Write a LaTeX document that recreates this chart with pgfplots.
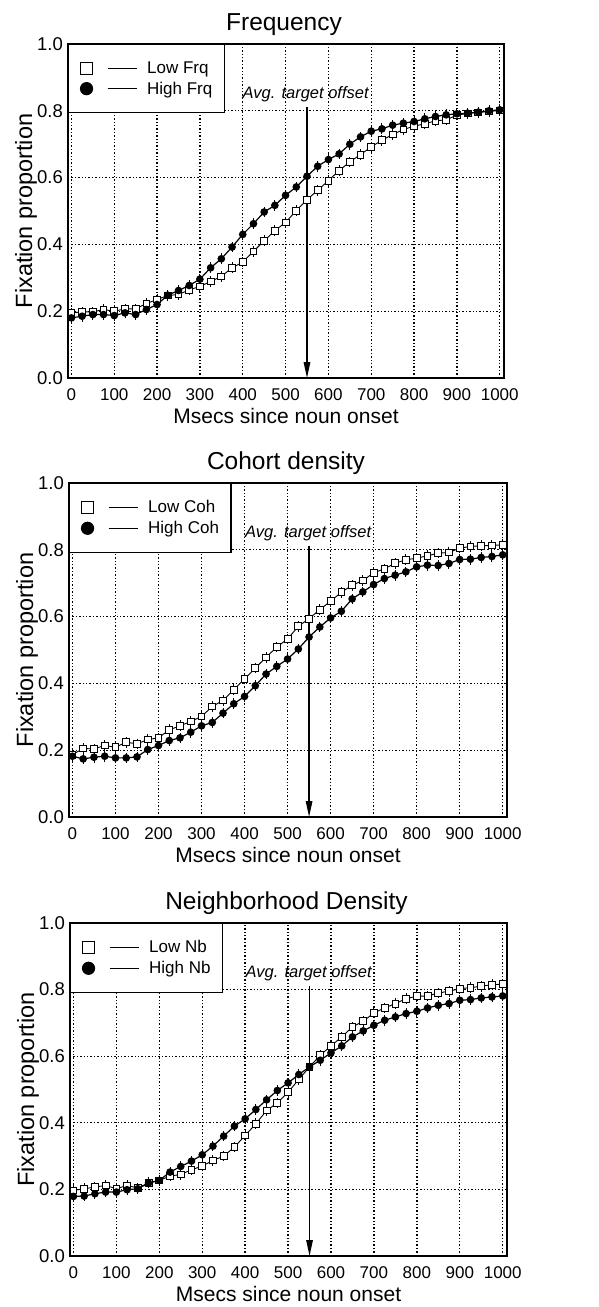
\documentclass[border=0pt]{standalone}
\usepackage{fontspec}
\setmainfont{Liberation Sans}
\usepackage{pgfplots}
\usepackage{pgfplotstable}
\pgfplotsset{compat=1.18}
\usetikzlibrary{arrows.meta}

\pgfplotstableread{
x y
0 0.195
25 0.198
50 0.198
75 0.205
100 0.200
125 0.207
150 0.207
175 0.223
200 0.235
225 0.247
250 0.250
275 0.264
300 0.274
325 0.289
350 0.304
375 0.330
400 0.347
425 0.379
450 0.411
475 0.441
500 0.466
525 0.501
550 0.534
575 0.562
600 0.591
625 0.621
650 0.647
675 0.669
700 0.692
725 0.712
750 0.729
775 0.744
800 0.754
825 0.761
850 0.770
875 0.773
900 0.787
925 0.792
950 0.795
975 0.798
1000 0.801
}\frqlow

\pgfplotstableread{
x y
0 0.180
25 0.185
50 0.190
75 0.190
100 0.187
125 0.195
150 0.190
175 0.205
200 0.220
225 0.248
250 0.262
275 0.277
300 0.296
325 0.330
350 0.357
375 0.392
400 0.430
425 0.462
450 0.497
475 0.517
500 0.547
525 0.572
550 0.604
575 0.634
600 0.654
625 0.671
650 0.700
675 0.722
700 0.739
725 0.746
750 0.757
775 0.763
800 0.768
825 0.776
850 0.783
875 0.788
900 0.791
925 0.793
950 0.796
975 0.800
1000 0.803
}\frqhigh

\pgfplotstableread{
x y
0 0.187
25 0.205
50 0.204
75 0.214
100 0.209
125 0.224
150 0.219
175 0.232
200 0.237
225 0.261
250 0.273
275 0.286
300 0.301
325 0.331
350 0.349
375 0.381
400 0.413
425 0.446
450 0.478
475 0.509
500 0.533
525 0.571
550 0.594
575 0.621
600 0.646
625 0.673
650 0.694
675 0.708
700 0.731
725 0.743
750 0.760
775 0.770
800 0.775
825 0.782
850 0.790
875 0.792
900 0.805
925 0.810
950 0.812
975 0.813
1000 0.815
}\cohlow

\pgfplotstableread{
x y
0 0.182
25 0.174
50 0.179
75 0.182
100 0.177
125 0.177
150 0.180
175 0.202
200 0.214
225 0.229
250 0.237
275 0.254
300 0.273
325 0.283
350 0.311
375 0.339
400 0.361
425 0.393
450 0.428
475 0.451
500 0.473
525 0.503
550 0.539
575 0.569
600 0.596
625 0.616
650 0.653
675 0.674
700 0.696
725 0.714
750 0.724
775 0.734
800 0.749
825 0.754
850 0.753
875 0.759
900 0.771
925 0.772
950 0.777
975 0.780
1000 0.785
}\cohhigh

\pgfplotstableread{
x y
0 0.197
25 0.202
50 0.207
75 0.212
100 0.202
125 0.212
150 0.204
175 0.220
200 0.227
225 0.240
250 0.245
275 0.259
300 0.270
325 0.287
350 0.300
375 0.327
400 0.362
425 0.397
450 0.437
475 0.460
500 0.492
525 0.530
550 0.568
575 0.603
600 0.631
625 0.658
650 0.688
675 0.705
700 0.730
725 0.745
750 0.758
775 0.773
800 0.780
825 0.781
850 0.790
875 0.795
900 0.803
925 0.806
950 0.810
975 0.815
1000 0.816
}\nblow

\pgfplotstableread{
x y
0 0.179
25 0.180
50 0.187
75 0.192
100 0.192
125 0.199
150 0.202
175 0.219
200 0.227
225 0.252
250 0.269
275 0.285
300 0.304
325 0.330
350 0.360
375 0.390
400 0.412
425 0.440
450 0.469
475 0.497
500 0.520
525 0.545
550 0.568
575 0.588
600 0.610
625 0.631
650 0.658
675 0.676
700 0.693
725 0.708
750 0.718
775 0.728
800 0.735
825 0.745
850 0.753
875 0.758
900 0.768
925 0.770
950 0.775
975 0.778
1000 0.781
}\nbhigh

\newcommand{\fTitle}{\fontsize{24.5}{28}\selectfont}
\newcommand{\fYlab}{\fontsize{23.5}{26}\selectfont}
\newcommand{\fXlab}{\fontsize{21}{24}\selectfont}
\newcommand{\fXTick}{\fontsize{17}{19}\selectfont}
\newcommand{\fYTick}{\fontsize{18.5}{20}\selectfont}
\newcommand{\fLeg}{\fontsize{17}{19}\selectfont}
\newcommand{\fAnn}{\itshape\fontsize{16.5}{18}\selectfont}

\pgfplotsset{
  panel/.style={
    scale only axis,
    anchor=south west,
    xmin=-8, xmax=1010, ymin=0, ymax=1,
    xtick={0,100,200,300,400,500,600,700,800,900,1000},
    ytick={0,0.2,0.4,0.6,0.8,1},
    /pgf/number format/assume math mode=true,
    yticklabel style={font=\fYTick, inner sep=0pt, /pgf/number format/.cd, fixed, fixed zerofill, precision=1},
    xticklabel style={font=\fXTick, inner sep=0pt, /pgf/number format/.cd, fixed, precision=0, 1000 sep={}},
    xticklabel shift=10pt,
    yticklabel shift=5pt,
    major tick length=0pt,
    grid=major,
    major grid style={line width=1.35pt, dash pattern=on 1.4pt off 2pt, black},
    axis line style={line width=1.5pt},
    title style={font=\fTitle, inner sep=0pt, at={(0.5,1)}, anchor=south, yshift=2pt, xshift=-2pt},
    xlabel style={font=\fXlab, inner sep=0pt, yshift=-8pt},
    ylabel style={font=\fYlab, inner sep=0pt},
    xlabel={Msecs since noun onset},
    ylabel={Fixation proportion},
    legend style={at={(0,1)}, anchor=north west, draw=black, line width=1.1pt, fill=white,
      inner xsep=12pt, inner ysep=17pt, row sep=7pt, column sep=10pt,
      nodes={inner sep=0pt, font=\fLeg}},
    legend cell align=left,
    legend image code/.code={
      \draw[##1, mark size=6pt] plot coordinates {(0pt,0pt)};
      \draw[##1, mark=none] (21pt,0pt) -- (50pt,0pt);
    },
  },
  lowser/.style={black, line width=0.9pt, mark=square*, mark size=3.4pt,
    mark options={fill=white, line width=0.9pt, solid}},
  highser/.style={black, line width=1.2pt, mark=*, mark size=3.2pt,
    mark options={fill=black, solid}},
  ebars/.style={error bars/.cd, y dir=both, y fixed=0.016, error mark=none,
    error bar style={line width=0.9pt, black}},
}

\begin{document}
\begin{tikzpicture}
\path[use as bounding box] (0pt,0pt) rectangle (598pt,-1307pt);

% Panel 1
\begin{axis}[panel, at={(68pt,-378pt)}, width=436pt, height=334pt, title={Frequency}]
\addplot[lowser, ebars] table[x=x,y=y] {\frqlow};
\addlegendentry{Low Frq}
\addplot[highser, ebars] table[x=x,y=y] {\frqhigh};
\addlegendentry{High Frq}
\draw[line width=1.4pt, -{Triangle[length=16pt,width=6.5pt]}] (axis cs:550,0.81) -- (axis cs:550,0);
\node[font=\fAnn, anchor=base, inner sep=0pt] at (axis cs:547,0.836) {Avg. target offset};
\end{axis}

% Panel 2
\begin{axis}[panel, at={(69pt,-817pt)}, width=438pt, height=334pt, title={Cohort density}]
\addplot[lowser, ebars] table[x=x,y=y] {\cohlow};
\addlegendentry{Low Coh}
\addplot[highser, ebars] table[x=x,y=y] {\cohhigh};
\addlegendentry{High Coh}
\draw[line width=1.4pt, -{Triangle[length=16pt,width=6.5pt]}] (axis cs:550,0.81) -- (axis cs:550,0);
\node[font=\fAnn, anchor=base, inner sep=0pt] at (axis cs:548,0.836) {Avg. target offset};
\end{axis}

% Panel 3
\begin{axis}[panel, at={(70pt,-1256pt)}, width=437pt, height=333pt, title={Neighborhood Density}]
\addplot[lowser, ebars] table[x=x,y=y] {\nblow};
\addlegendentry{Low Nb}
\addplot[highser, ebars] table[x=x,y=y] {\nbhigh};
\addlegendentry{High Nb}
\draw[line width=1.4pt, -{Triangle[length=16pt,width=6.5pt]}] (axis cs:550,0.81) -- (axis cs:550,0);
\node[font=\fAnn, anchor=base, inner sep=0pt] at (axis cs:548,0.836) {Avg. target offset};
\end{axis}
\end{tikzpicture}
\end{document}
